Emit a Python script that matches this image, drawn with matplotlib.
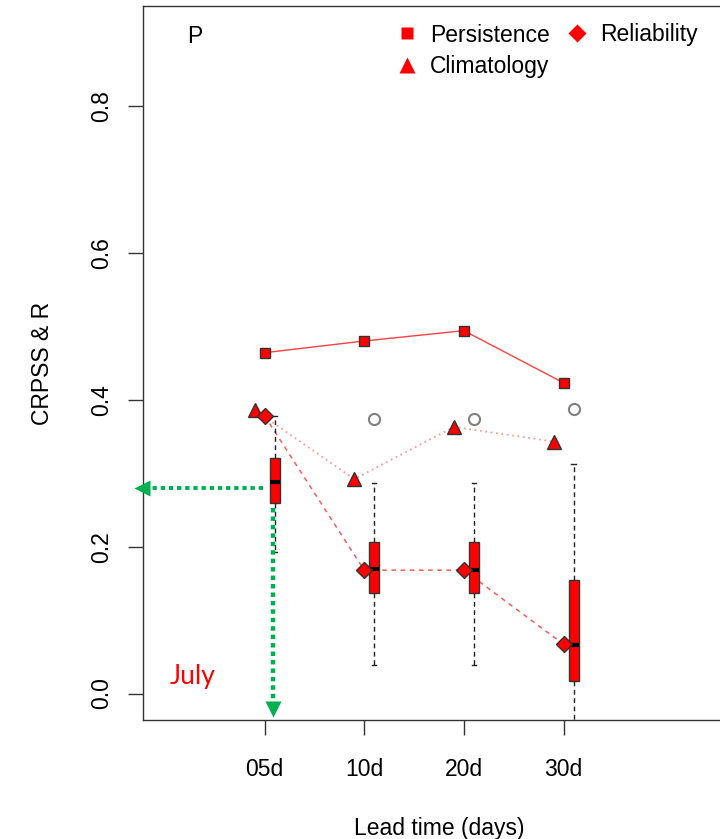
import numpy as np
import matplotlib
matplotlib.use('Agg')
import matplotlib.pyplot as plt
from matplotlib.lines import Line2D
from matplotlib.transforms import offset_copy

plt.rcParams['font.family'] = ['Liberation Sans', 'DejaVu Sans']

# ---------------- data ----------------
lead_labels = ['05d', '10d', '20d', '30d']
persistence = [0.464, 0.480, 0.494, 0.423]
climatology = [0.386, 0.292, 0.363, 0.343]
reliability = [0.378, 0.168, 0.168, 0.067]
open_circles = [np.nan, 0.374, 0.374, 0.387]

box_whislo = [0.193, 0.039, 0.039, -0.060]
box_q1 = [0.260, 0.137, 0.137, 0.017]
box_med = [0.288, 0.169, 0.168, 0.066]
box_q3 = [0.320, 0.206, 0.206, 0.155]
box_whishi = [0.378, 0.287, 0.287, 0.313]

arrow_value = 0.28
y_ticks = [0.0, 0.2, 0.4, 0.6, 0.8]

# ---------------- figure ----------------
W, H = 720, 839
fig = plt.figure(figsize=(W / 100, H / 100), dpi=100)
ax = fig.add_axes([143 / W, (H - 720) / H, 592 / W, 714 / H])
ax.set_xlim(-0.22, 5.72)
ax.set_ylim(-0.036, 0.936)

x = np.arange(1, len(lead_labels) + 1)
xb = x + 0.1
xc = x - 0.1

edge = '#333333'
green = '#00b050'

# lines
ax.plot(x, persistence, color='red', alpha=0.75, lw=1.0, zorder=3)
ax.plot(xc, climatology, color='#ff9a9a', lw=1.3, dashes=(1, 2), zorder=3)
ax.plot(x, reliability, color='#ff5a5a', lw=1.1, dashes=(3, 3), zorder=3)

# boxes
stats = [dict(med=m, q1=a, q3=b, whislo=lo, whishi=hi, fliers=[])
         for m, a, b, lo, hi in zip(box_med, box_q1, box_q3, box_whislo, box_whishi)]
ax.bxp(stats, positions=xb, widths=0.1, patch_artist=True, showfliers=False,
       manage_ticks=False, capwidths=0.045,
       boxprops=dict(facecolor='red', edgecolor=edge, lw=1.0),
       whiskerprops=dict(color='#222222', lw=1.0, linestyle=(0, (3.5, 2.5))),
       capprops=dict(color='#222222', lw=1.0),
       medianprops=dict(color='black', lw=3, solid_capstyle='butt'),
       zorder=4)

# markers
ax.plot(x, persistence, 's', ms=7, mfc='red', mec=edge, mew=1, zorder=5)
ax.plot(xc, climatology, '^', ms=9.5, mfc='red', mec=edge, mew=1, zorder=5)
ax.plot(x, reliability, 'D', ms=8.3, mfc='red', mec=edge, mew=1, zorder=6)
ax.plot(xb, open_circles, 'o', ms=8, mfc='none', mec='#808080', mew=1.5, zorder=5)

# green arrows
x0, _ = ax.get_xlim()
y0, _ = ax.get_ylim()
h_tip = x0 - 0.09
ax.plot([xb[0] - 0.12, h_tip + 0.05], [arrow_value, arrow_value], color=green,
        lw=2.8, dashes=(1.1, 1.0), dash_capstyle='butt', clip_on=False, zorder=7)
ax.plot([h_tip], [arrow_value], '<', ms=11, color=green, mec='none', clip_on=False,
        transform=offset_copy(ax.transData, fig=fig, x=5.5, y=0, units='points'), zorder=7)
v_tip = y0 + 0.005
vx = xb[0] - 0.012
ax.plot([vx, vx], [box_q1[0] - 0.008, v_tip + 0.012], color=green,
        lw=3.2, dashes=(1.0, 0.9), dash_capstyle='butt', clip_on=False, zorder=7)
ax.plot([vx], [v_tip], 'v', ms=11, color=green, mec='none', clip_on=False,
        transform=offset_copy(ax.transData, fig=fig, x=0, y=5.5, units='points'), zorder=7)

# texts
ax.text((187 - 143) / 592, (720 - 43) / 714, 'P', transform=ax.transAxes,
        fontsize=16.5, va='baseline', ha='left')
ax.text((170 - 143) / 592, (720 - 684) / 714, 'July', transform=ax.transAxes,
        fontsize=19, va='baseline', ha='left', color='red', family=['Lato', 'DejaVu Sans'])

# axes styling
ax.set_xticks(x, lead_labels)
ax.set_yticks(y_ticks, [f'{v:.1f}' for v in y_ticks])
ax.tick_params(axis='both', direction='out', length=11, width=1, color=edge, labelsize=16.5)
ax.tick_params(axis='x', pad=16)
ax.tick_params(axis='y', pad=10.5)
for t in ax.get_yticklabels():
    t.set_rotation(90)
    t.set_va('center')
for s in ax.spines.values():
    s.set_color(edge)
    s.set_linewidth(1.0)
ax.set_xlabel('Lead time (days)', fontsize=16.5, labelpad=26)
ax.set_ylabel('CRPSS & R', fontsize=16.5, labelpad=26)

# legend
handles = [Line2D([], [], marker='s', ls='none', color='red', ms=8, mec='none'),
           Line2D([], [], marker='^', ls='none', color='red', ms=11, mec='none'),
           Line2D([], [], marker='D', ls='none', color='red', ms=9, mec='none')]
ax.legend(handles, ['Persistence', 'Climatology', 'Reliability'], ncol=2, frameon=False,
          loc='upper left', bbox_to_anchor=(393 / W, 1 - 23.5 / H), bbox_transform=fig.transFigure,
          borderpad=0, borderaxespad=0, handlelength=1.2, handletextpad=0.4,
          columnspacing=0.6, labelspacing=0.38, fontsize=16.5)

fig.savefig('out.png', dpi=100)
